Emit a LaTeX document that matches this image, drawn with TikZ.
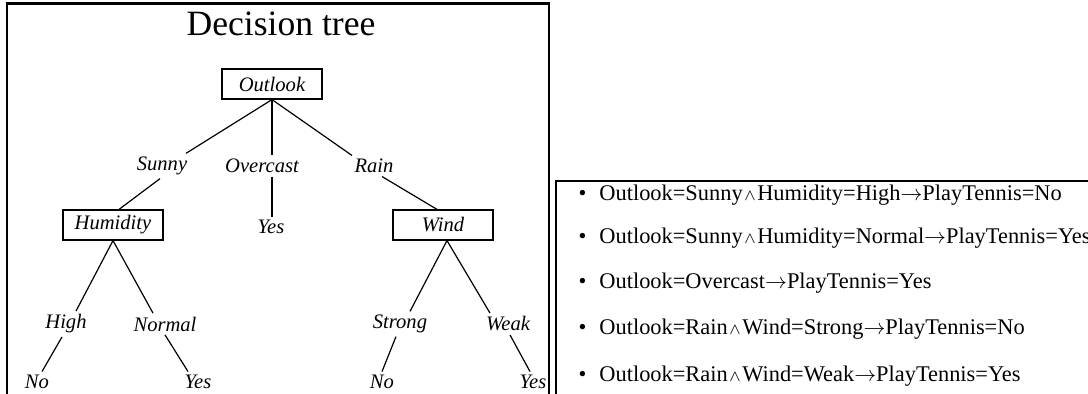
\documentclass[tikz,border=0pt]{standalone}
\usepackage{fontspec}
\setmainfont{Liberation Serif}
\newcommand{\wedgesym}{\kern0.8pt$\scriptstyle\wedge$\kern0.8pt}
\newcommand{\ruleto}{$\rightarrow$}
\begin{document}
\begin{tikzpicture}[x=0.5pt,y=-0.5pt,line width=0.6pt,
    attr/.style={shape=rectangle,draw=black,minimum width=50pt,minimum height=15pt,inner sep=0pt,font=\fontsize{10.3}{12}\selectfont\itshape},
    lbl/.style={inner sep=1.5pt,font=\fontsize{10.3}{12}\selectfont\itshape},
    rule/.style={anchor=west,inner sep=0pt,font=\fontsize{11.2}{13}\selectfont},
    frame/.style={line width=1.2pt}]
    \useasboundingbox (0,0) rectangle (1088,394);

    % left panel: the tree
    \draw[frame] (7,396) -- (7,3.5) -- (549,3.5) -- (549,396);
    \node[font=\fontsize{17.8}{22}\selectfont] (title) at (281,24) {Decision tree};

    \node[attr] (outlook) at (272,84) {Outlook};
    \node[lbl] (sunny) at (162,166) {Sunny};
    \node[lbl] (overcast) at (262,166) {Overcast};
    \node[lbl] (rain) at (374,166) {Rain};
    \node[attr] (humidity) at (113,225) {Humidity};
    \node[lbl] (yes1) at (271,227) {Yes};
    \node[attr] (wind) at (443,225) {Wind};
    \node[lbl] (high) at (66,324) {High};
    \node[lbl] (normal) at (165,324) {Normal};
    \node[lbl] (strong) at (400,324) {Strong};
    \node[lbl] (weak) at (508,324) {Weak};
    \node[lbl] (no1) at (37,382) {No};
    \node[lbl] (yes2) at (198,382) {Yes};
    \node[lbl] (no2) at (382,382) {No};
    \node[lbl] (yes3) at (533,382) {Yes};

    \draw (outlook.south) -- ([xshift=12pt]sunny.north);
    \draw (outlook.south) -- (outlook.south |- overcast.north);
    \draw (outlook.south) -- ([xshift=-11pt]rain.north);
    \draw ([xshift=-1pt]sunny.south) -- ([xshift=3pt]humidity.north);
    \draw (outlook.south |- overcast.south) -- (outlook.south |- yes1.north);
    \draw ([xshift=4pt]rain.south) -- ([xshift=-3pt]wind.north);
    \draw (humidity.south) -- ([xshift=5pt]high.north);
    \draw (humidity.south) -- ([xshift=-6pt]normal.north);
    \draw ([xshift=2pt]wind.south) -- ([xshift=5pt]strong.north);
    \draw ([xshift=2pt]wind.south) -- ([xshift=-9pt]weak.north);
    \draw ([xshift=-2pt]high.south) -- ([xshift=2.5pt]no1.north);
    \draw (normal.south) -- ([xshift=-5pt]yes2.north);
    \draw ([xshift=-2pt]strong.south) -- (no2.north);
    \draw ([xshift=1pt]weak.south) -- ([xshift=-1.5pt]yes3.north);

    % right panel: the rules
    \draw[frame] (556,396) -- (556,181) -- (1090,181);
    \node[rule] (r1) at (578,195) {\textbullet\hspace{6.5pt}Outlook=Sunny\wedgesym Humidity=High\ruleto PlayTennis=No};
    \node[rule] (r2) at (578,238) {\textbullet\hspace{6.5pt}Outlook=Sunny\wedgesym Humidity=Normal\ruleto PlayTennis=Yes};
    \node[rule] (r3) at (578,283) {\textbullet\hspace{6.5pt}Outlook=Overcast\ruleto PlayTennis=Yes};
    \node[rule] (r4) at (578,329) {\textbullet\hspace{6.5pt}Outlook=Rain\wedgesym Wind=Strong\ruleto PlayTennis=No};
    \node[rule] (r5) at (578,376) {\textbullet\hspace{6.5pt}Outlook=Rain\wedgesym Wind=Weak\ruleto PlayTennis=Yes};
\end{tikzpicture}
\end{document}
